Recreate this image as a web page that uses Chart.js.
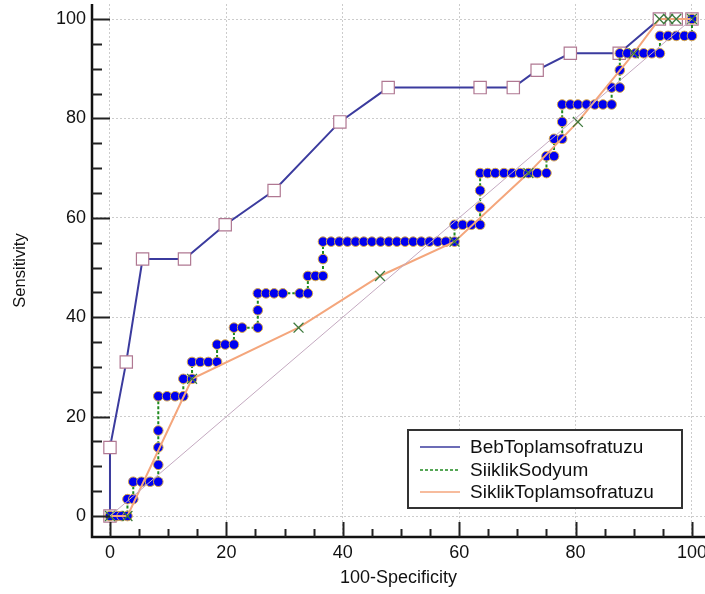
<!DOCTYPE html>
<html>
<head>
<meta charset="utf-8">
<script src="https://cdn.jsdelivr.net/npm/chart.js@4.4.1/dist/chart.umd.min.js"></script>
<style>
html, body { margin: 0; padding: 0; background: #fff; overflow: hidden; }
</style>
</head>
<body>
<canvas id="roc" width="705" height="594"></canvas>
<script>
// values
const seriesNames = ["BebToplamsofratuzu", "SiiklikSodyum", "SiklikToplamsofratuzu"];

const bebX = [0, 0, 2.8, 5.6, 12.8, 19.8, 28.2, 39.5, 47.8, 63.6, 69.3, 73.4, 79.1, 87.5, 94.4, 97.3, 100];
const bebY = [0, 13.8, 31.0, 51.7, 51.7, 58.6, 65.5, 79.3, 86.2, 86.2, 86.2, 89.7, 93.1, 93.1, 100, 100, 100];

const sodyumX = [0, 1.2, 2.0, 3.0, 3.0, 4.0, 4.0, 5.4, 6.9, 8.3, 8.3, 8.3, 8.3,
  8.3, 9.8, 11.2, 12.6, 12.6, 14.1, 14.1, 15.5, 16.9, 18.4, 18.4, 19.8, 21.3,
  21.3, 22.7, 25.4, 25.4, 25.4, 26.8, 28.2, 29.7, 32.6, 34.0, 34.0, 35.3, 36.6, 36.6,
  36.6, 38.0, 39.4, 40.8, 42.2, 43.6, 45.0, 46.5, 47.9, 49.3, 50.7, 52.1, 53.5, 54.9, 56.3, 57.7, 59.2,
  59.2, 60.6, 62.1, 63.6, 63.6, 63.6,
  63.6, 64.9, 66.2, 67.7, 69.1, 70.5, 71.9, 73.4, 75.0, 75.0, 76.3, 76.3, 77.7, 77.7,
  77.7, 79.1, 80.4, 81.9, 83.3, 84.7, 86.2, 86.2, 87.6, 87.6,
  87.6, 88.9, 90.3, 91.7, 93.1, 94.5, 94.5, 95.9, 97.3, 98.7, 100, 100];
const sodyumY = [0, 0, 0, 0, 3.4, 3.4, 6.9, 6.9, 6.9, 6.9, 10.3, 13.8, 17.2,
  24.1, 24.1, 24.1, 24.1, 27.6, 27.6, 31.0, 31.0, 31.0, 31.0, 34.5, 34.5, 34.5,
  37.9, 37.9, 37.9, 41.4, 44.8, 44.8, 44.8, 44.8, 44.8, 44.8, 48.3, 48.3, 48.3, 51.7,
  55.2, 55.2, 55.2, 55.2, 55.2, 55.2, 55.2, 55.2, 55.2, 55.2, 55.2, 55.2, 55.2, 55.2, 55.2, 55.2, 55.2,
  58.6, 58.6, 58.6, 58.6, 62.1, 65.5,
  69.0, 69.0, 69.0, 69.0, 69.0, 69.0, 69.0, 69.0, 69.0, 72.4, 72.4, 75.9, 75.9, 79.3,
  82.8, 82.8, 82.8, 82.8, 82.8, 82.8, 82.8, 86.2, 86.2, 89.7,
  93.1, 93.1, 93.1, 93.1, 93.1, 93.1, 96.6, 96.6, 96.6, 96.6, 96.6, 100];

const siklikX = [0, 3.0, 14.1, 32.4, 46.4, 59.2, 71.9, 80.4, 90.0, 94.4, 95.9, 97.3, 100];
const siklikY = [0, 0, 27.6, 37.9, 48.3, 55.2, 69.0, 79.3, 93.1, 100, 100, 100, 100];

const diagX = [0, 100];
const diagY = [0, 100];

const majorTicks = [0, 20, 40, 60, 80, 100];
const minorStep = 5;

const FONT = "'Liberation Sans', Arial, sans-serif";

function toPoints(xs, ys) {
    return xs.map((x, i) => ({x: x, y: ys[i]}));
}

// axis lines with major and minor tick marks, drawn inward like the original
const axesPlugin = {
    id: 'axesPlugin',
    afterDraw(chart) {
        const {ctx, chartArea: a, scales: {x, y}} = chart;
        ctx.save();
        ctx.strokeStyle = '#111';
        ctx.lineWidth = 2.5;
        ctx.beginPath();
        ctx.moveTo(a.left, a.top);
        ctx.lineTo(a.left, a.bottom);
        ctx.lineTo(a.right, a.bottom);
        ctx.stroke();
        ctx.lineWidth = 2;
        ctx.strokeStyle = '#222';
        ctx.beginPath();
        for (let v = 0; v <= 100; v += minorStep) {
            const major = majorTicks.includes(v);
            const py = Math.round(y.getPixelForValue(v)) + 0.5;
            ctx.moveTo(a.left, py);
            ctx.lineTo(a.left + (major ? 18 : 10), py);
            const px = Math.round(x.getPixelForValue(v)) + 0.5;
            ctx.moveTo(px, a.bottom);
            ctx.lineTo(px, a.bottom - (major ? 15 : 8));
        }
        ctx.stroke();
        ctx.restore();
    }
};

// boxed legend sitting inside the plot, bottom right
const legendPlugin = {
    id: 'legendPlugin',
    afterDraw(chart) {
        const ctx = chart.ctx;
        const box = {x: 408, y: 430, w: 274, h: 78};
        const rows = [447, 470, 492];
        ctx.save();
        ctx.fillStyle = '#fff';
        ctx.fillRect(box.x, box.y, box.w, box.h);
        ctx.strokeStyle = '#333';
        ctx.lineWidth = 2;
        ctx.strokeRect(box.x, box.y, box.w, box.h);
        ctx.font = '19px ' + FONT;
        ctx.textBaseline = 'middle';
        ctx.fillStyle = '#111';
        for (let i = 0; i < 3; i++) {
            const ds = chart.data.datasets[i];
            ctx.beginPath();
            ctx.strokeStyle = ds.borderColor;
            ctx.lineWidth = 1.5;
            ctx.setLineDash(ds.borderDash || []);
            ctx.moveTo(420, rows[i]);
            ctx.lineTo(460, rows[i]);
            ctx.stroke();
            ctx.setLineDash([]);
            ctx.fillText(ds.label, 470, rows[i] + 1);
        }
        ctx.restore();
    }
};

new Chart(document.getElementById('roc'), {
    type: 'scatter',
    data: {
        datasets: [{
            label: seriesNames[0],
            data: toPoints(bebX, bebY),
            showLine: true,
            borderColor: '#3b3b9e',
            borderWidth: 2,
            pointStyle: 'rect',
            pointRadius: 8.7,
            pointBackgroundColor: '#fff',
            pointBorderColor: '#b07892',
            pointBorderWidth: 1.2,
            order: 3
        }, {
            label: seriesNames[1],
            data: toPoints(sodyumX, sodyumY),
            showLine: true,
            borderColor: '#1f8a1f',
            borderWidth: 2,
            borderDash: [3, 2],
            pointStyle: 'circle',
            pointRadius: 4.8,
            pointBackgroundColor: '#0000f0',
            pointBorderColor: '#d8a848',
            pointBorderWidth: 1,
            order: 2
        }, {
            label: seriesNames[2],
            data: toPoints(siklikX, siklikY),
            showLine: true,
            borderColor: '#f4a67c',
            borderWidth: 2,
            pointStyle: 'crossRot',
            pointRadius: 7,
            pointBorderColor: '#3d7a3d',
            pointBorderWidth: 1.3,
            order: 1
        }, {
            label: 'diag',
            data: toPoints(diagX, diagY),
            showLine: true,
            borderColor: '#c4a9c0',
            borderWidth: 1,
            pointRadius: 0,
            order: 0
        }]
    },
    options: {
        responsive: false,
        animation: false,
        layout: {autoPadding: false, padding: {top: 4, left: 0, right: 0, bottom: 0}},
        plugins: {
            legend: {display: false},
            tooltip: {enabled: false}
        },
        scales: {
            x: {
                type: 'linear',
                min: -3.09,
                max: 102.24,
                afterBuildTicks: s => { s.ticks = majorTicks.map(v => ({value: v})); },
                afterFit: s => { s.height = 57; s.paddingLeft = 0; s.paddingRight = 0; },
                grid: {color: '#cccccc', lineWidth: 1, drawTicks: false},
                border: {display: false, dash: [2, 2]},
                ticks: {color: '#111', font: {size: 18, family: FONT}, padding: 5, maxRotation: 0},
                title: {display: true, text: '100-Specificity', color: '#111',
                        font: {size: 18, family: FONT}, padding: {top: 0, bottom: 5}}
            },
            y: {
                type: 'linear',
                min: -4.22,
                max: 103.02,
                afterBuildTicks: s => { s.ticks = majorTicks.map(v => ({value: v})); },
                afterFit: s => { s.width = 92; s.paddingTop = 0; s.paddingBottom = 0; },
                grid: {color: '#cccccc', lineWidth: 1, drawTicks: false},
                border: {display: false, dash: [2, 2]},
                ticks: {color: '#111', font: {size: 18, family: FONT}, padding: 6},
                title: {display: true, text: 'Sensitivity', color: '#111',
                        font: {size: 16.5, family: FONT}, padding: {top: 11, bottom: 0}}
            }
        }
    },
    plugins: [axesPlugin, legendPlugin]
});
</script>
</body>
</html>
